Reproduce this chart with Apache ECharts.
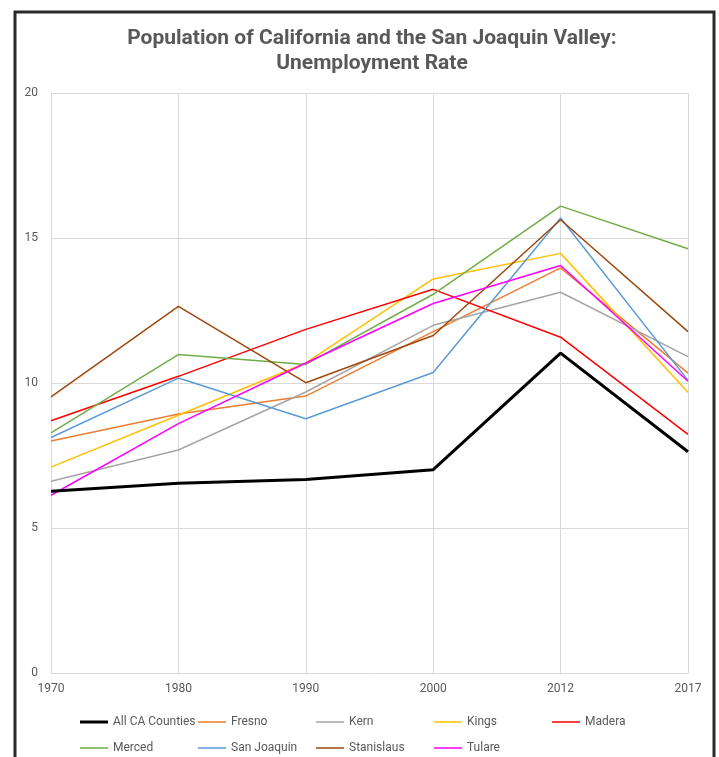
<!DOCTYPE html>
<html>
<head>
<meta charset="utf-8">
<script src="https://cdn.jsdelivr.net/npm/echarts@6/dist/echarts.min.js"></script>
<style>
  html, body { margin: 0; padding: 0; background: #fff; }
  #chart { width: 719px; height: 757px; }
</style>
</head>
<body>
<div id="chart"></div>
<script>
// Census years on the horizontal axis
const years = ['1970', '1980', '1990', '2000', '2012', '2017'];

// Unemployment rate (%) per area
const allCA      = [6.27, 6.54, 6.67, 7.01, 11.03, 7.63];
const fresno     = [8.00, 8.93, 9.55, 11.77, 13.97, 10.34];
const kern       = [6.61, 7.69, 9.69, 11.99, 13.13, 10.91];
const kings      = [7.10, 8.89, 10.69, 13.59, 14.47, 9.67];
const madera     = [8.70, 10.23, 11.85, 13.23, 11.58, 8.23];
const merced     = [8.28, 10.98, 10.64, 13.06, 16.10, 14.63];
const sanJoaquin = [8.12, 10.17, 8.77, 10.36, 15.69, 10.09];
const stanislaus = [9.52, 12.64, 10.01, 11.64, 15.63, 11.77];
const tulare     = [6.13, 8.60, 10.69, 12.74, 14.05, 10.06];

// Y axis ticks
const yMin = 0, yMax = 20, yStep = 5;

const seriesDefs = [
  { name: 'All CA Counties', data: allCA, color: '#000000', width: 3 },
  { name: 'Fresno', data: fresno, color: '#ED7D31', width: 1.5 },
  { name: 'Kern', data: kern, color: '#A5A5A5', width: 1.5 },
  { name: 'Kings', data: kings, color: '#FFC000', width: 1.5 },
  { name: 'Madera', data: madera, color: '#FF0000', width: 1.5 },
  { name: 'Merced', data: merced, color: '#70AD47', width: 1.5 },
  { name: 'San Joaquin', data: sanJoaquin, color: '#5B9BD5', width: 1.5 },
  { name: 'Stanislaus', data: stanislaus, color: '#9E480E', width: 1.5 },
  { name: 'Tulare', data: tulare, color: '#FF00FF', width: 1.5 }
];

const chart = echarts.init(document.getElementById('chart'), null, { renderer: 'canvas' });

const textColor = '#595959';
const gridColor = '#D9D9D9';
const baseFont = 'Roboto, "Liberation Sans", sans-serif';

// Legend swatches: a full-height bar for the thick series, a thinner centred bar for the rest
const thickIcon = 'rect';
const thinIcon = 'path://M0,0L0.01,0M0,0.75H28V2.25H0ZM0,3L0.01,3';

// Legend laid out as a 5-column grid on a 118px pitch, two rows
const legendCols = 5, legendLeft = 75, legendPitch = 118;
const legendRowTops = [711, 737];

const legends = seriesDefs.map((s, i) => ({
  left: legendLeft + (i % legendCols) * legendPitch,
  top: legendRowTops[Math.floor(i / legendCols)],
  icon: s.width > 2 ? thickIcon : thinIcon,
  itemWidth: 28,
  itemHeight: 3,
  textStyle: { color: textColor, fontSize: 12, fontFamily: baseFont },
  data: [s.name]
}));

chart.setOption({
  backgroundColor: '#ffffff',
  animation: false,
  title: {
    text: 'Population of California and the San Joaquin Valley:\nUnemployment Rate',
    left: 367,
    textAlign: 'center',
    top: 21,
    textStyle: {
      color: textColor,
      fontSize: 21,
      fontWeight: 'bold',
      fontFamily: 'Roboto, sans-serif',
      lineHeight: 25
    }
  },
  graphic: [{
    type: 'rect',
    shape: { x: 15, y: 12, width: 699, height: 780 },
    style: { fill: 'none', stroke: '#2b2b2b', lineWidth: 3 },
    silent: true
  }],
  grid: { left: 51, right: 31, top: 93, bottom: 84, containLabel: false },
  legend: legends,
  xAxis: {
    type: 'category',
    data: years,
    boundaryGap: false,
    axisLine: { show: true, lineStyle: { color: gridColor, width: 1 } },
    axisTick: { show: false },
    splitLine: { show: true, lineStyle: { color: gridColor, width: 1 } },
    axisLabel: { color: textColor, fontSize: 12, fontFamily: baseFont, margin: 10 }
  },
  yAxis: {
    type: 'value',
    min: yMin,
    max: yMax,
    interval: yStep,
    axisLine: { show: false },
    axisTick: { show: false },
    splitLine: { show: true, lineStyle: { color: gridColor, width: 1 } },
    axisLabel: { color: textColor, fontSize: 12, fontFamily: baseFont, margin: 13 }
  },
  series: seriesDefs.map(s => ({
    name: s.name,
    type: 'line',
    data: s.data,
    symbol: 'none',
    color: s.color,
    lineStyle: { color: s.color, width: s.width },
    z: s.width > 2 ? 3 : 2
  }))
});
</script>
</body>
</html>
